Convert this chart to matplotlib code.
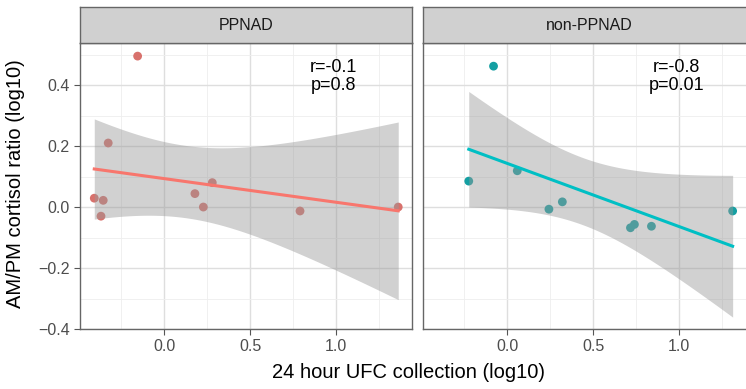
import matplotlib
matplotlib.use("Agg")
import matplotlib.pyplot as plt
import numpy as np

plt.rcParams['font.family'] = ['Liberation Sans', 'DejaVu Sans']

# PPNAD group
ppnad_x = [-0.155, -0.326, -0.407, -0.355, -0.368, 0.178, 0.279, 0.227, 0.789, 1.36]
ppnad_y = [0.495, 0.210, 0.029, 0.022, -0.030, 0.044, 0.080, 0.000, -0.013, 0.000]

# non-PPNAD group
non_x = [-0.080, -0.224, 0.058, 0.242, 0.320, 0.716, 0.739, 0.838, 1.31]
non_y = [0.462, 0.085, 0.119, -0.007, 0.017, -0.068, -0.057, -0.063, -0.013]

panels = ["PPNAD", "non-PPNAD"]
stats = ["r=-0.1\np=0.8", "r=-0.8\np=0.01"]
line_colors = ["#F8766D", "#00BFC4"]
point_colors = ["#D8716C", "#149FA2"]
t_crit = {8: 2.306, 7: 2.365}  # 95% two-sided t quantiles

xlim = (-0.49, 1.44)
ylim = (-0.40, 0.538)

fig = plt.figure(figsize=(7.46, 3.89), dpi=100)
W, H = 746, 389


def fig_rect(x0, y0, x1, y1):
    return [x0 / W, 1 - y1 / H, (x1 - x0) / W, (y1 - y0) / H]


def fit_band(x, y):
    x = np.asarray(x)
    y = np.asarray(y)
    n = len(x)
    slope, intercept = np.polyfit(x, y, 1)
    resid = y - (slope * x + intercept)
    s = np.sqrt(np.sum(resid ** 2) / (n - 2))
    xs = np.linspace(x.min(), x.max(), 100)
    yhat = slope * xs + intercept
    se = s * np.sqrt(1 / n + (xs - x.mean()) ** 2 / np.sum((x - x.mean()) ** 2))
    t = t_crit[n - 2]
    return xs, yhat, yhat - t * se, yhat + t * se


data = [(ppnad_x, ppnad_y), (non_x, non_y)]
lefts = [80, 423]

for i, (xv, yv) in enumerate(data):
    x0 = lefts[i]
    ax = fig.add_axes(fig_rect(x0, 43, x0 + 332, 329))
    ax.set_xlim(*xlim)
    ax.set_ylim(*ylim)
    ax.set_xticks([0.0, 0.5, 1.0])
    ax.set_xticks([-0.25, 0.25, 0.75, 1.25], minor=True)
    ax.set_yticks([-0.4, -0.2, 0.0, 0.2, 0.4])
    ax.set_yticks([-0.3, -0.1, 0.1, 0.3, 0.5], minor=True)
    ax.grid(which='major', color='#DEDEDE', lw=1.0, zorder=0)
    ax.grid(which='minor', color='#EEEEEE', lw=0.6, zorder=0)
    ax.tick_params(which='minor', length=0)
    ax.tick_params(which='major', length=4, color='#555555', labelsize=11.5,
                   labelcolor='#4D4D4D', width=0.8)
    if i == 1:
        ax.set_yticklabels([])
        ax.tick_params(axis='y', length=0)
    for sp in ax.spines.values():
        sp.set_color('#666666')
        sp.set_linewidth(1.0)

    ax.scatter(xv, yv, s=40, color=point_colors[i], edgecolors='none', zorder=2)
    xs, yhat, lo, hi = fit_band(xv, yv)
    ax.fill_between(xs, lo, hi, color='#999999', alpha=0.45, lw=0, zorder=3)
    ax.plot(xs, yhat, color=line_colors[i], lw=2.2, zorder=4)
    ax.text(0.985, 0.428, stats[i], ha='center', va='center', fontsize=13,
            linespacing=1.05, color='black', zorder=5)

    # facet strip
    sax = fig.add_axes(fig_rect(x0, 7, x0 + 332, 43))
    sax.set_facecolor('#D0D0D0')
    sax.set_xticks([])
    sax.set_yticks([])
    for sp in sax.spines.values():
        sp.set_color('#666666')
        sp.set_linewidth(1.0)
    sax.text(0.5, 0.5, panels[i], ha='center', va='center', fontsize=11.5,
             color='#1A1A1A', transform=sax.transAxes)

fig.text(409 / W, 1 - 372 / H, "24 hour UFC collection (log10)", ha='center',
         va='center', fontsize=14.5)
fig.text(16 / W, 1 - 184 / H, "AM/PM cortisol ratio (log10)", ha='center',
         va='center', rotation=90, fontsize=14.5)

fig.savefig("out.png", dpi=100)
